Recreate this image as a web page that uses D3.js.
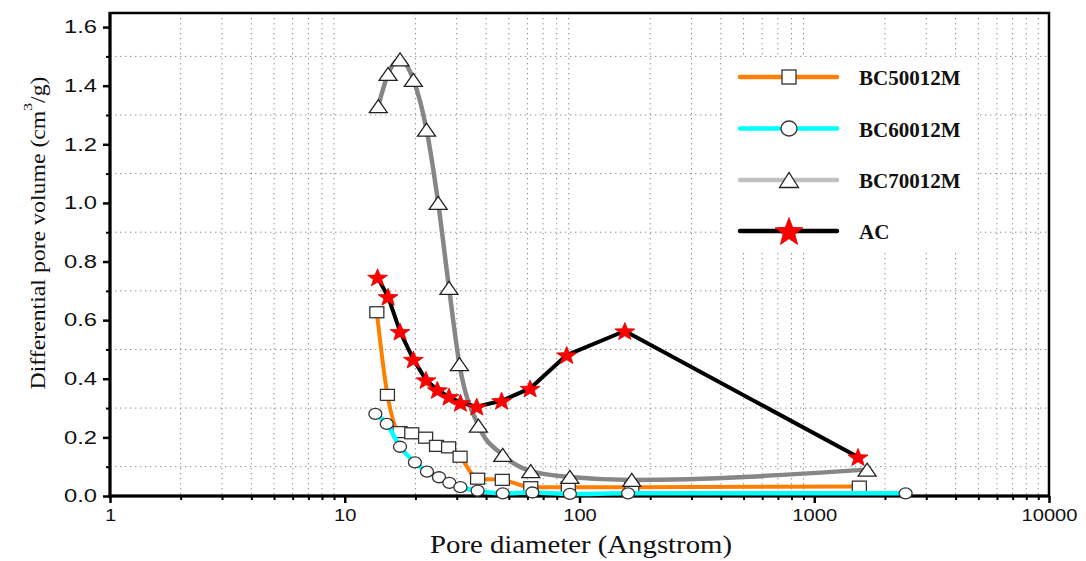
<!DOCTYPE html>
<html>
<head>
<meta charset="utf-8">
<script src="https://cdn.jsdelivr.net/npm/d3@7"></script>
<style>
  html, body { margin: 0; padding: 0; background: #fff; }
  svg { display: block; }
</style>
</head>
<body>
<svg id="chart" width="1086" height="561"></svg>
<script>
// ---------------- data ----------------
const seriesNames = ["BC50012M", "BC60012M", "BC70012M", "AC"];

const bc500X = [13.7, 15.2, 17.2, 19.3, 22.1, 24.6, 27.7, 31.0, 36.8, 46.9, 62, 89.6, 167, 1556];
const bc500Y = [0.627, 0.345, 0.218, 0.214, 0.199, 0.171, 0.166, 0.134, 0.059, 0.055, 0.030, 0.030, 0.030, 0.032];

const bc600X = [13.5, 15.1, 17.2, 19.9, 22.4, 25.2, 27.9, 31.1, 36.8, 47.1, 63, 91, 161, 2450];
const bc600Y = [0.280, 0.246, 0.168, 0.115, 0.083, 0.064, 0.045, 0.030, 0.018, 0.009, 0.012, 0.007, 0.009, 0.009];

const bc700X = [13.9, 15.3, 17.2, 19.6, 22.3, 25.0, 27.8, 30.8, 37.1, 47.1, 62, 91, 167, 1680];
const bc700Y = [1.33, 1.44, 1.49, 1.42, 1.25, 1.00, 0.71, 0.45, 0.24, 0.14, 0.085, 0.065, 0.055, 0.09];

const acX = [13.8, 15.3, 17.2, 19.6, 22.2, 24.8, 27.8, 31.1, 36.5, 46.6, 61.6, 88.2, 156, 1536];
const acY = [0.746, 0.680, 0.561, 0.466, 0.396, 0.362, 0.339, 0.318, 0.305, 0.325, 0.367, 0.481, 0.563, 0.133];

const xMajorTicks = [1, 10, 100, 1000, 10000];
const yMajorTicks = [0.0, 0.2, 0.4, 0.6, 0.8, 1.0, 1.2, 1.4, 1.6];
const yMinorTicks = [0.1, 0.3, 0.5, 0.7, 0.9, 1.1, 1.3, 1.5];
const xLabel = "Pore diameter (Angstrom)";
const yLabelMain = "Differential pore volume (cm";
const yLabelSup = "3";
const yLabelEnd = "/g)";

// ---------------- layout ----------------
const svg = d3.select("#chart");
const L = 110, R = 1049, T = 13, B = 496;

const x = d3.scaleLog().domain([1, 10000]).range([L, R]);
const y = d3.scaleLinear().domain([0, 1.648]).range([B, T]);

svg.append("rect").attr("width", 1086).attr("height", 561).attr("fill", "#fff");

// minor x values (2..9 per decade)
const xMinorTicks = [];
[1, 10, 100, 1000].forEach(d => { for (let k = 2; k <= 9; k++) xMinorTicks.push(d * k); });

// ---------------- grid ----------------
const grid = svg.append("g").attr("stroke", "#8c8c8c").attr("stroke-width", 1)
  .attr("stroke-dasharray", "1.4,3.6");
grid.selectAll("line.v").data(xMinorTicks).join("line")
  .attr("x1", d => x(d)).attr("x2", d => x(d)).attr("y1", T).attr("y2", B);
grid.selectAll("line.h").data(yMinorTicks).join("line")
  .attr("x1", L).attr("x2", R).attr("y1", d => y(d)).attr("y2", d => y(d));

// ---------------- axes ----------------
const yAxisG = svg.append("g").attr("transform", `translate(${L},0)`)
  .call(d3.axisLeft(y).tickValues(yMajorTicks).tickSize(7).tickPadding(6).tickFormat(d3.format(".1f")));
svg.append("g").attr("transform", `translate(${L},0)`)
  .call(d3.axisLeft(y).tickValues(yMinorTicks).tickSize(4).tickFormat(""))
  .call(g => g.select(".domain").remove())
  .selectAll("line").attr("stroke-width", 2);
yAxisG.select(".domain").remove();
yAxisG.selectAll("line").attr("stroke-width", 2.5);
yAxisG.selectAll("text")
  .attr("font-family", "'Liberation Sans', Arial, sans-serif").attr("font-size", 18).attr("fill", "#111")
  .attr("textLength", 33).attr("lengthAdjust", "spacingAndGlyphs");

const xAxisG = svg.append("g").attr("transform", `translate(0,${B})`)
  .call(d3.axisBottom(x).tickValues(xMajorTicks).tickSize(7).tickPadding(6).tickFormat(d3.format("d")));
svg.append("g").attr("transform", `translate(0,${B})`)
  .call(d3.axisBottom(x).tickValues(xMinorTicks).tickSize(4).tickFormat(""))
  .call(g => g.select(".domain").remove())
  .selectAll("line").attr("stroke-width", 2);
xAxisG.select(".domain").remove();
xAxisG.selectAll("line").attr("stroke-width", 2.5);
xAxisG.selectAll("text")
  .attr("font-family", "'Liberation Sans', Arial, sans-serif").attr("font-size", 17).attr("fill", "#111")
  .each(function() {
    const n = this.textContent.length;
    d3.select(this).attr("textLength", n * 11.2).attr("lengthAdjust", "spacingAndGlyphs");
  });

// frame
svg.append("rect").attr("x", L).attr("y", T).attr("width", R - L).attr("height", B - T)
  .attr("fill", "none").attr("stroke", "#000").attr("stroke-width", 2.5);
svg.append("line").attr("x1", L).attr("x2", L).attr("y1", T - 1).attr("y2", B + 1.5).attr("stroke", "#000").attr("stroke-width", 3);
svg.append("line").attr("x1", L - 1.5).attr("x2", R + 1).attr("y1", B).attr("y2", B).attr("stroke", "#000").attr("stroke-width", 3);

// axis titles
svg.append("text").attr("x", 581).attr("y", 553).attr("text-anchor", "middle")
  .attr("font-family", "'Liberation Serif', 'Times New Roman', serif").attr("font-size", 25).attr("fill", "#111")
  .attr("textLength", 302).attr("lengthAdjust", "spacingAndGlyphs")
  .text(xLabel);

const yl = svg.append("text").attr("transform", "translate(45,233) rotate(-90)").attr("text-anchor", "middle")
  .attr("font-family", "'Liberation Serif', 'Times New Roman', serif").attr("font-size", 20).attr("fill", "#111")
  .attr("textLength", 313).attr("lengthAdjust", "spacingAndGlyphs");
yl.append("tspan").text(yLabelMain);
yl.append("tspan").attr("font-size", 13).attr("dy", -13).text(yLabelSup);
yl.append("tspan").attr("dy", 13).text(yLabelEnd);

// ---------------- marker shapes ----------------
function starPath(rx, ry) {
  const pts = [];
  for (let i = 0; i < 10; i++) {
    const a = -Math.PI / 2 + i * Math.PI / 5;
    const r = i % 2 === 0 ? 1 : 0.42;
    pts.push([Math.cos(a) * r * rx, Math.sin(a) * r * ry + ry * 0.095]);
  }
  return "M" + pts.map(p => p.join(",")).join("L") + "Z";
}
function triPath(w, h) {
  return `M${-w/2},${h/2}L${w/2},${h/2}L0,${-h/2}Z`;
}
function drawMarker(g, kind, cx, cy, big) {
  if (kind === "square") {
    const w = big ? 14 : 14, h = big ? 14 : 11;
    g.append("rect").attr("x", cx - w/2).attr("y", cy - h/2).attr("width", w).attr("height", h)
      .attr("fill", "#fff").attr("stroke", "#333").attr("stroke-width", 1.3);
  } else if (kind === "circle") {
    const rx = big ? 8 : 6.5, ry = big ? 7.5 : 5.5;
    g.append("ellipse").attr("cx", cx).attr("cy", cy).attr("rx", rx).attr("ry", ry)
      .attr("fill", "#fff").attr("stroke", "#333").attr("stroke-width", 1.3);
  } else if (kind === "triangle") {
    const w = big ? 19 : 18, h = big ? 15 : 13;
    g.append("path").attr("d", triPath(w, h)).attr("transform", `translate(${cx},${cy})`)
      .attr("fill", "#fff").attr("stroke", "#222").attr("stroke-width", 1.3);
  } else if (kind === "star") {
    const rx = big ? 14.7 : 10.5, ry = big ? 14.9 : 9.4;
    g.append("path").attr("d", starPath(rx, ry)).attr("transform", `translate(${cx},${cy})`)
      .attr("fill", "#ff0000").attr("stroke", "#e00000").attr("stroke-width", 0.8);
  }
}

// ---------------- series ----------------
const series = [
  { name: seriesNames[0], xs: bc500X, ys: bc500Y, color: "#ff8000", legendColor: "#ff8000", marker: "square", curve: d3.curveMonotoneX, width: 4 },
  { name: seriesNames[1], xs: bc600X, ys: bc600Y, color: "#00ffff", legendColor: "#00ffff", marker: "circle", curve: d3.curveMonotoneX, width: 4.5 },
  { name: seriesNames[2], xs: bc700X, ys: bc700Y, color: "#868686", legendColor: "#c0c0c0", marker: "triangle", curve: d3.curveMonotoneX, width: 4.5 },
  { name: seriesNames[3], xs: acX, ys: acY, color: "#000000", legendColor: "#000000", marker: "star", curve: d3.curveLinear, width: 4 }
];

const plot = svg.append("g");
series.forEach(s => {
  const pts = s.xs.map((v, i) => [v, s.ys[i]]);
  const line = d3.line().x(d => x(d[0])).y(d => y(d[1])).curve(s.curve);
  const g = plot.append("g");
  g.append("path").attr("d", line(pts)).attr("fill", "none").attr("stroke", s.color)
    .attr("stroke-width", s.width).attr("stroke-linejoin", "round");
  pts.forEach(p => drawMarker(g, s.marker, x(p[0]), y(p[1]), false));
});

// ---------------- legend ----------------
const leg = svg.append("g");
leg.append("rect").attr("x", 724).attr("y", 58).attr("width", 252).attr("height", 192).attr("fill", "#fff");
const rowY = [77, 128.5, 180, 231];
series.forEach((s, i) => {
  const yy = rowY[i];
  leg.append("line").attr("x1", 740).attr("x2", 837).attr("y1", yy).attr("y2", yy)
    .attr("stroke", s.legendColor).attr("stroke-width", 4.5).attr("stroke-linecap", "round");
  drawMarker(leg, s.marker, 789, yy, true);
  leg.append("text").attr("x", 859).attr("y", yy + 8)
    .attr("font-family", "'Liberation Serif', 'Times New Roman', serif").attr("font-weight", "bold")
    .attr("font-size", 21).attr("fill", "#111").text(s.name);
});
</script>
</body>
</html>
